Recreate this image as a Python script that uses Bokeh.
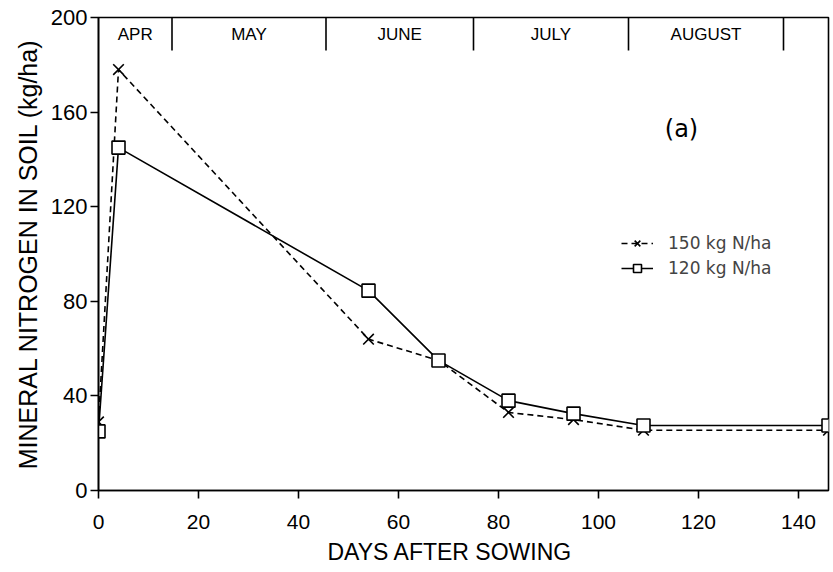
from bokeh.plotting import figure
from bokeh.models import Range1d, Legend, LegendItem, FixedTicker, Label, Title
from bokeh.core.properties import value
from bokeh.embed import file_html
from bokeh.resources import INLINE

# ---- data ----
days = [0, 4, 54, 68, 82, 95, 109, 146]
n150 = [29, 178, 64, 55, 33, 30, 25.5, 25.5]
n120 = [25, 145, 84.5, 55, 38, 32.5, 27.5, 27.5]

month_names = ["APR", "MAY", "JUNE", "JULY", "AUGUST"]
month_starts = [0, 14.7, 45.5, 75, 106]
month_bounds = [14.7, 45.5, 75, 106, 137]

x_ticks = [0, 20, 40, 60, 80, 100, 120, 140]
y_ticks = [0, 40, 80, 120, 160, 200]

FONT = "Liberation Sans"
WIDE = "DejaVu Sans"

p = figure(width=833, height=572, output_backend="svg", toolbar_location=None,
           x_range=Range1d(0, 146), y_range=Range1d(0, 200),
           min_border_left=98, min_border_right=5, min_border_top=17, min_border_bottom=82)
p.grid.visible = False
p.outline_line_color = "black"
p.outline_line_width = 1.6
p.background_fill_color = "white"
p.border_fill_color = "white"

for ax in (p.xaxis[0], p.yaxis[0]):
    ax.axis_line_color = "black"
    ax.axis_line_width = 1.6
    ax.major_tick_line_color = "black"
    ax.major_tick_line_width = 1.6
    ax.major_tick_out = 8
    ax.major_tick_in = 0
    ax.minor_tick_line_color = None
    ax.major_label_text_color = "black"
    ax.axis_label_text_color = "black"
    ax.axis_label_text_font_style = "normal"

p.xaxis.ticker = FixedTicker(ticks=x_ticks)
p.yaxis.ticker = FixedTicker(ticks=y_ticks)
p.xaxis.major_label_text_font = FONT
p.xaxis.major_label_text_font_size = "21px"
p.yaxis.major_label_text_font = FONT
p.yaxis.major_label_text_font_size = "22px"
p.yaxis.axis_label = "MINERAL NITROGEN IN SOIL (kg/ha)"
p.yaxis.axis_label_text_font = FONT
p.yaxis.axis_label_text_font_size = "25px"
p.yaxis.axis_label_standoff = 6
p.xaxis.major_label_standoff = 16
p.yaxis.major_label_standoff = 3

xtitle = Title(text="DAYS AFTER SOWING", align="left", offset=229, standoff=10,
               text_font=FONT, text_font_size="23px", text_font_style="normal",
               text_color="black")
p.add_layout(xtitle, "below")

# month band
p.segment(x0=month_bounds, y0=[200] * len(month_bounds), x1=month_bounds,
          y1=[186] * len(month_bounds), line_color="black", line_width=1.6)
mids = [(a + b) / 2 for a, b in zip(month_starts, month_bounds)]
p.text(x=mids, y=[192.8] * len(mids), text=month_names, text_align="center",
       text_baseline="middle", text_font=value(FONT), text_font_size="17px",
       text_color="black")

# series
l150 = p.line(days, n150, line_color="black", line_width=1.6, line_dash="6 4")
m150 = p.scatter(days, n150, marker="x", size=15, line_color="black", line_width=1.6)
l120 = p.line(days, n120, line_color="black", line_width=1.6)
m120 = p.scatter(days, n120, marker="square", size=13, line_color="black",
                 fill_color="white", line_width=1.6)

legend = Legend(items=[LegendItem(label="150 kg N/ha", renderers=[l150, m150]),
                       LegendItem(label="120 kg N/ha", renderers=[l120, m120])],
                location=(523, 212), border_line_color=None, padding=0, margin=0,
                background_fill_alpha=0, label_text_font=WIDE,
                label_text_font_size="17px", glyph_width=32, glyph_height=20,
                label_height=20, spacing=5, label_standoff=15)
p.add_layout(legend, "center")

p.add_layout(Label(x=116.6, y=153, text="(a)", text_font=WIDE, text_font_size="24px",
                   text_align="center", text_baseline="middle", text_color="black"))

open("out.html", "w").write(file_html(p, INLINE))
